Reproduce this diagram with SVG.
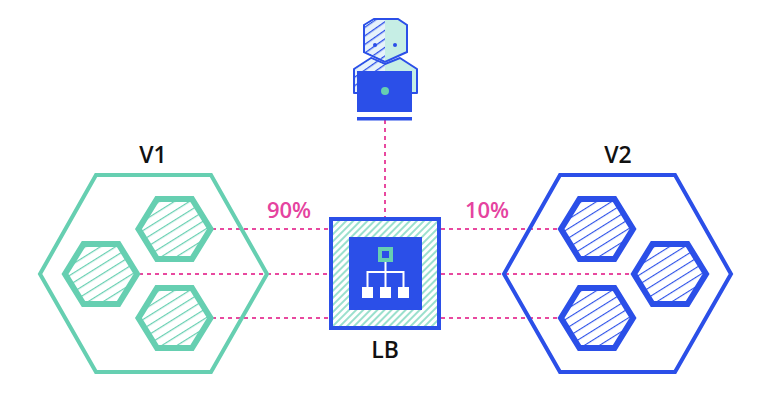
<svg xmlns="http://www.w3.org/2000/svg" width="770" height="400" viewBox="0 0 770 400">
<style>
.lbl{font-family:"Open Sans","Noto Sans","Liberation Sans",sans-serif;font-weight:600;font-size:23px;text-anchor:middle;fill:#111}
.pct{fill:#e5439f;font-size:22px}
.link{fill:none;stroke:#e8499f;stroke-width:2;stroke-dasharray:4 4}
.gBig{fill:none;stroke:#66cfb1;stroke-width:4}
.bBig{fill:none;stroke:#2b4fe8;stroke-width:4}
.gHex{fill:url(#hatchG);stroke:#66cfb1;stroke-width:6}
.bHex{fill:url(#hatchB);stroke:#2b4fe8;stroke-width:6}
</style>
<defs>
<pattern id="hatchG" width="8" height="8" patternUnits="userSpaceOnUse" patternTransform="rotate(-32)"><rect width="8" height="8" fill="#fff"/><rect width="8" height="1.200" fill="#66cfb1"/></pattern>
<pattern id="hatchB" width="8" height="8" patternUnits="userSpaceOnUse" patternTransform="rotate(-32)"><rect width="8" height="8" fill="#fff"/><rect width="8" height="1.100" fill="#2b4fe8"/></pattern>
<pattern id="hatchL" width="5" height="5" patternUnits="userSpaceOnUse" patternTransform="rotate(-45)"><rect width="5" height="5" fill="#fff"/><rect width="5" height="2" fill="#9be0cd"/></pattern>
<pattern id="hatchP" width="7" height="7" patternUnits="userSpaceOnUse" patternTransform="rotate(-35)"><rect width="7" height="7" fill="#e6f2fb"/><rect width="7" height="1.300" fill="#2b4fe8"/></pattern>
<polygon id="hex" points="-36,0 -17.500,-30 17.500,-30 36,0 17.500,30 -17.500,30"/>
</defs>
<rect width="770" height="400" fill="#fff"/>
<g id="connectors">
<path class="link" d="M385 120V217"/>
<path class="link" d="M212 229H329M139 274H329M212 318H329"/>
<path class="link" d="M441 229H559M441 274H632M441 318H559"/>
</g>
<g id="v1">
<polygon class="gBig" points="40,274 96,175 211,175 267,274 211,372 96,372"/>
<text class="lbl" x="153" y="163">V1</text>
</g>
<g id="v1-pod-1"><use href="#hex" class="gHex" x="174.500" y="229"/></g>
<g id="v1-pod-2"><use href="#hex" class="gHex" x="101" y="274"/></g>
<g id="v1-pod-3"><use href="#hex" class="gHex" x="174.500" y="318"/></g>
<g id="v2">
<polygon class="bBig" points="504,274 560,175 675,175 731,274 675,372 560,372"/>
<text class="lbl" x="618" y="163">V2</text>
</g>
<g id="v2-pod-1"><use href="#hex" class="bHex" x="597" y="229"/></g>
<g id="v2-pod-2"><use href="#hex" class="bHex" x="670" y="274"/></g>
<g id="v2-pod-3"><use href="#hex" class="bHex" x="597" y="318"/></g>
<g id="label-90"><text class="lbl pct" x="289" y="218">90%</text></g>
<g id="label-10"><text class="lbl pct" x="487" y="218">10%</text></g>
<g id="lb">
<rect x="331" y="219" width="108" height="109" fill="url(#hatchL)" stroke="#2b4fe8" stroke-width="4"/>
<rect x="349" y="237" width="73" height="73" fill="#2b4fe8"/>
<path d="M385.500 262V272M367.500 288V272H403.500V288M385.500 272V288" fill="none" stroke="#fff" stroke-width="2"/>
<rect x="380" y="249" width="11" height="11" fill="#2b4fe8" stroke="#66cfb1" stroke-width="4"/>
<rect x="362" y="287" width="11" height="11" fill="#fff"/>
<rect x="380" y="287" width="11" height="11" fill="#fff"/>
<rect x="398" y="287" width="11" height="11" fill="#fff"/>
<text class="lbl" x="385" y="358">LB</text>
</g>
<g id="user">
<polygon points="354,69 371,58 385,64 400,58 417,69 417,93 354,93" fill="#c6eee5" stroke="#2b4fe8" stroke-width="2" stroke-linejoin="round"/>
<polygon points="355,69.500 371.500,59 385,65 385,92 355,92" fill="url(#hatchP)"/>
<polygon points="364,25 374,19 398,19 407,25 407,52 385,62 364,52" fill="#c6eee5" stroke="#2b4fe8" stroke-width="2"/>
<polygon points="365,25.500 374.300,20 385,20 385,60.500 365,51.500" fill="url(#hatchP)"/>
<circle cx="375" cy="45" r="2" fill="#2b4fe8"/>
<circle cx="395" cy="45" r="2" fill="#2b4fe8"/>
<rect x="357" y="71" width="55" height="41" fill="#2b4fe8"/>
<circle cx="385" cy="91" r="4" fill="#66cfb1"/>
<rect x="357" y="117" width="55" height="3.500" fill="#2b4fe8"/>
</g>
</svg>
